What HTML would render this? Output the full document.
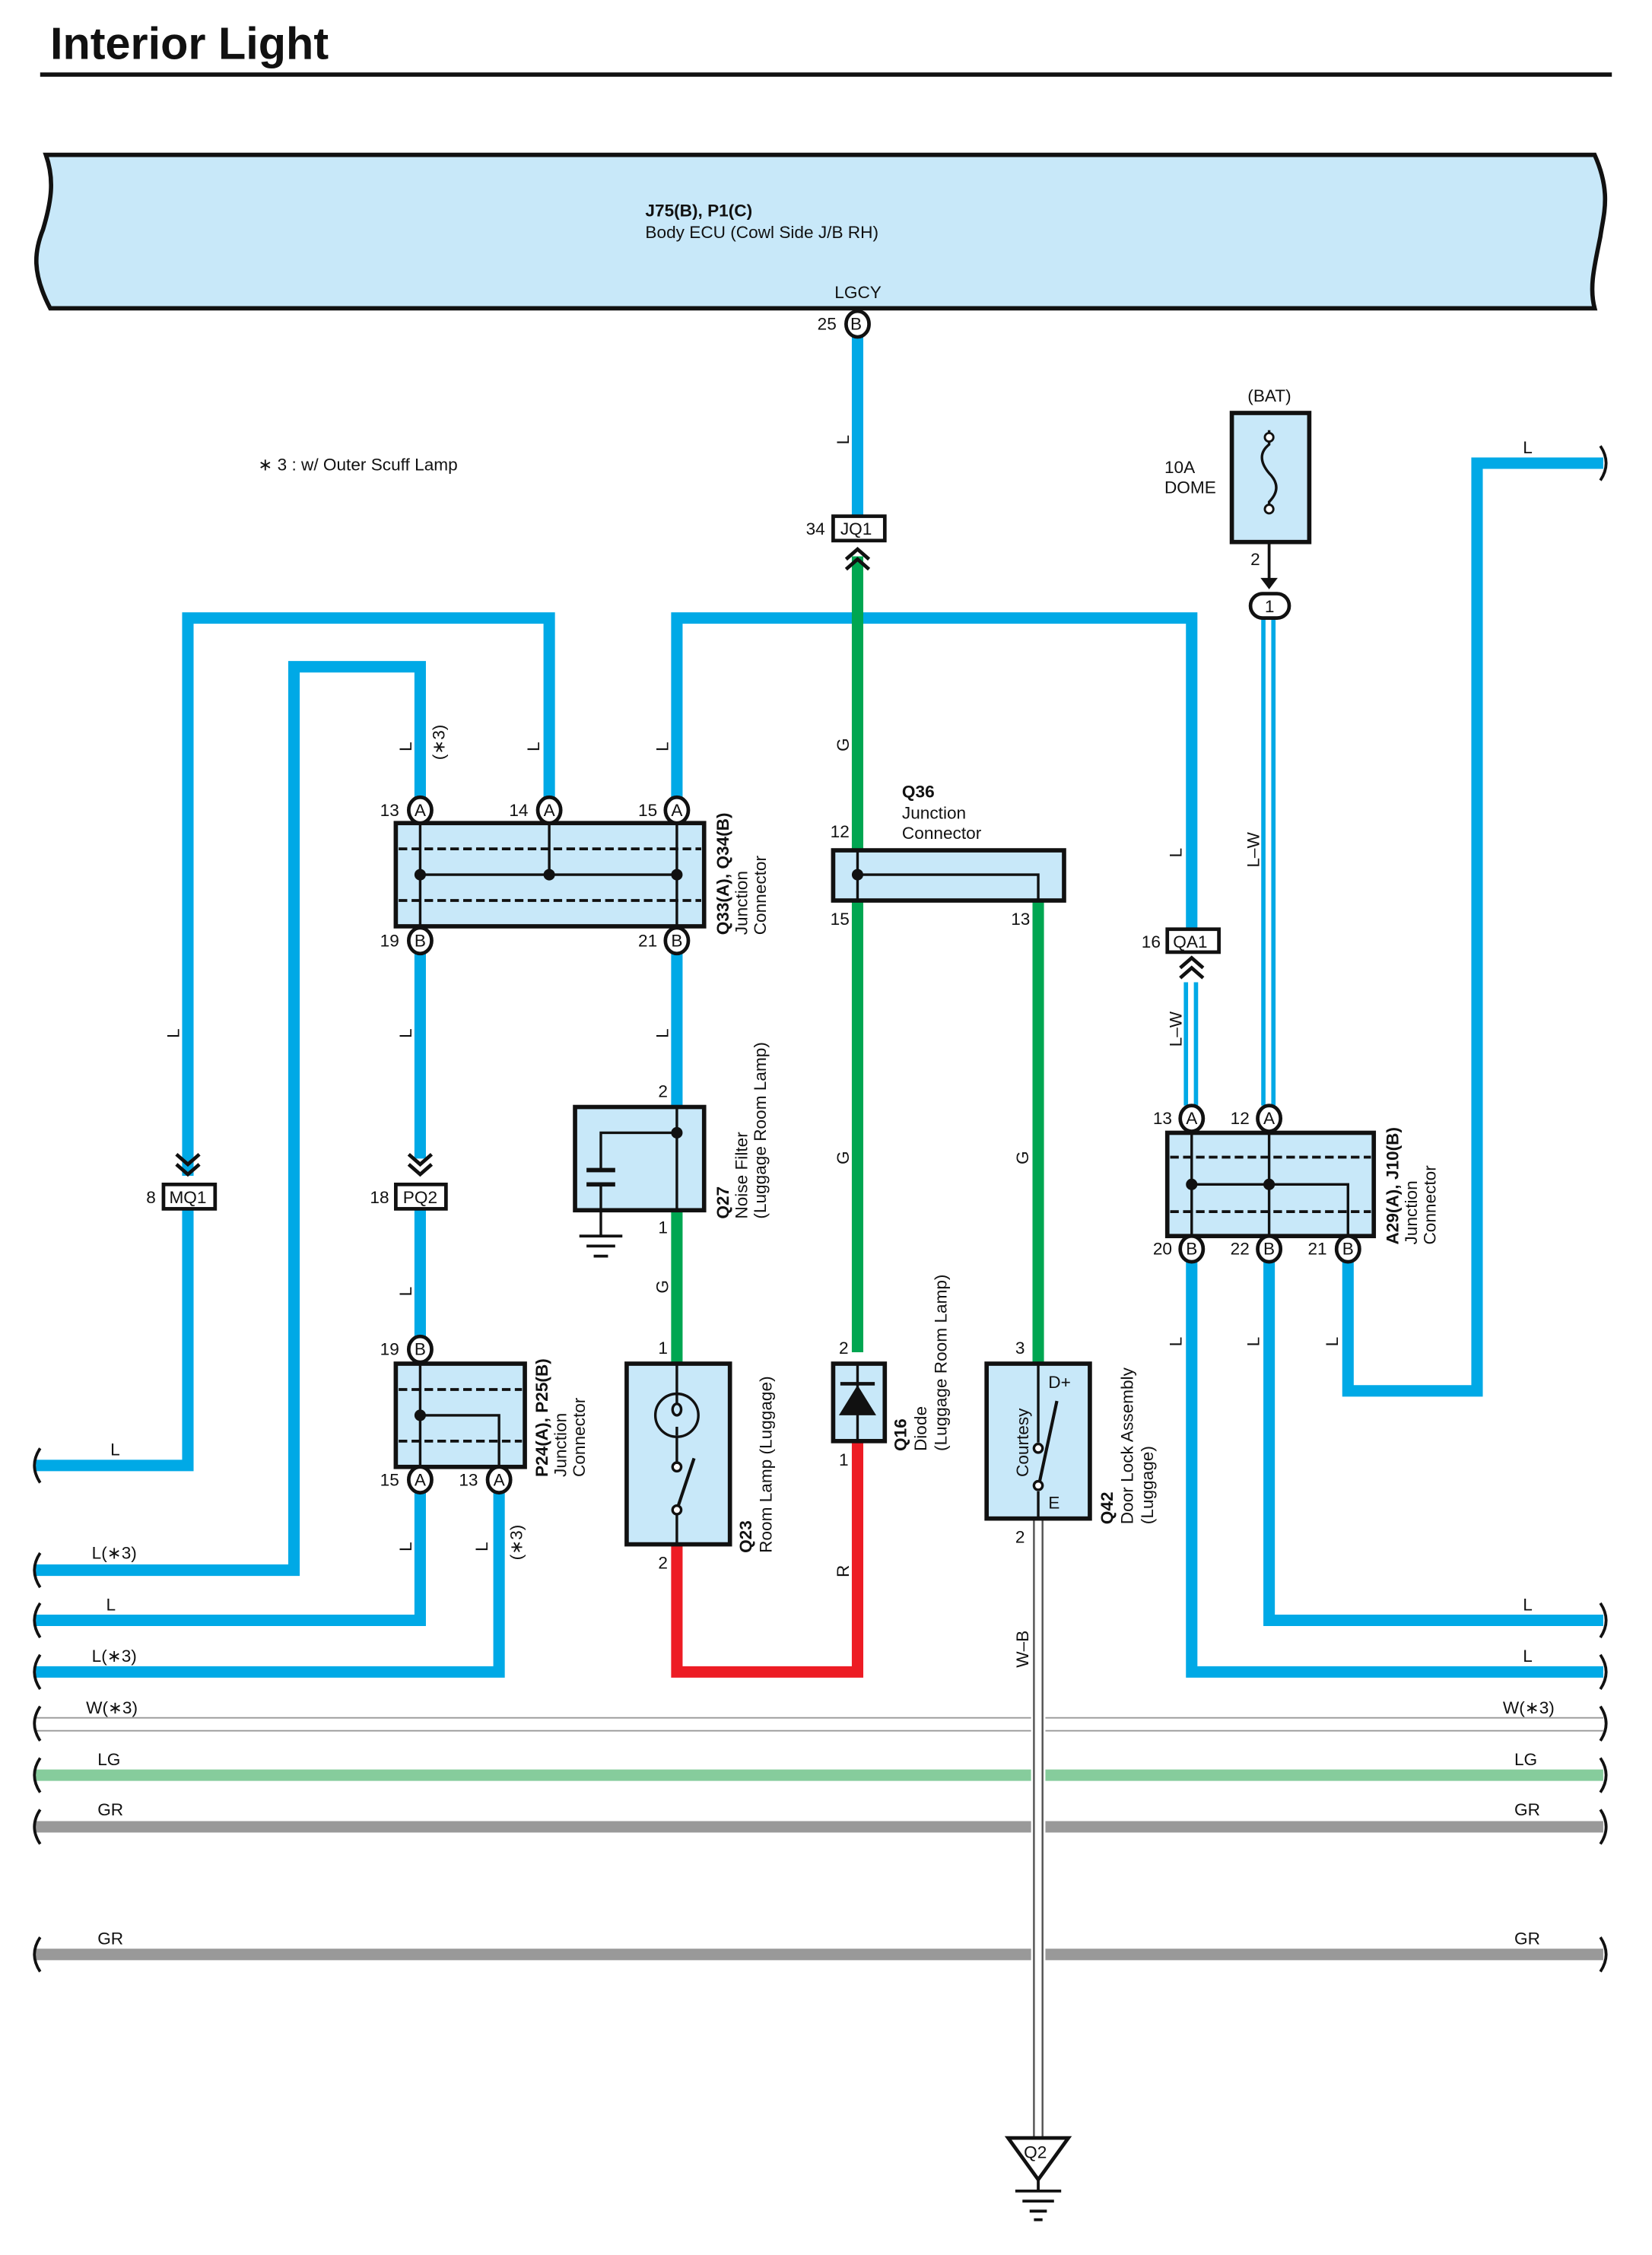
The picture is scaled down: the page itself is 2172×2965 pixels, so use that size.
<!DOCTYPE html>
<html><head><meta charset="utf-8"><style>
html,body{margin:0;padding:0;background:#fff}
svg{display:block}
text{font-family:"Liberation Sans",sans-serif;font-size:12px;fill:#111}
.b{font-weight:bold}
.bl{stroke:#00a9e6;stroke-width:8;fill:none;stroke-linejoin:miter}
.gr{stroke:#00a651;stroke-width:8;fill:none}
.rd{stroke:#ed1c24;stroke-width:8;fill:none}
.bx{fill:#c8e8f9;stroke:#111;stroke-width:3}
.ln{stroke:#111;stroke-width:1.8;fill:none}
.ds{stroke:#111;stroke-width:2;stroke-dasharray:6 3;fill:none}
.pin{fill:#fff;stroke:#111;stroke-width:2.5}
</style></head><body>
<svg width="2172" height="2965" viewBox="0 0 1152 1572.6" preserveAspectRatio="none" xmlns="http://www.w3.org/2000/svg">
<text x="35" y="41" class="b" style="font-size:31.5px">Interior Light</text>
<line x1="28" y1="52" x2="1124" y2="52" stroke="#111" stroke-width="3"/>

<!-- ECU -->
<path d="M32 108 H1112 C1124 135 1118 150 1116 165 C1112 185 1108 200 1112 215 H35 C22 190 24 175 30 160 C36 140 38 125 32 108 Z" class="bx"/>
<text x="450" y="151" class="b">J75(B), P1(C)</text>
<text x="450" y="166">Body ECU (Cowl Side J/B RH)</text>
<text x="582" y="208">LGCY</text>

<text x="180" y="328">∗ 3 : w/ Outer Scuff Lamp</text>

<!-- blue wires -->
<path class="bl" d="M598 232 V360"/>
<path class="bl" d="M131 820 V431 H383 V557"/>
<path class="bl" d="M25 1095 H205 V465 H293 V557"/>
<path class="bl" d="M472 557 V431 H831 V648"/>
<path class="bl" d="M293 664 V808"/>
<path class="bl" d="M293 843 V933"/>
<path class="bl" d="M131 843 V1022 H25"/>
<path class="bl" d="M293 1040 V1130 H25"/>
<path class="bl" d="M348 1040 V1166 H25"/>
<path class="bl" d="M472 664 V772"/>
<path class="bl" d="M831 879 V1166 H1118"/>
<path class="bl" d="M885 879 V1130 H1118"/>
<path class="bl" d="M940 879 V970 H1030 V323 H1118"/>
<!-- L-W -->
<g stroke="#00a9e6" stroke-width="3"><line x1="881" y1="432" x2="881" y2="771"/><line x1="888" y1="432" x2="888" y2="771"/><line x1="827" y1="685" x2="827" y2="771"/><line x1="834" y1="685" x2="834" y2="771"/></g>

<!-- green / red -->
<path class="gr" d="M598 388 V943"/>
<path class="gr" d="M724 628 V951"/>
<path class="gr" d="M472 844 V951"/>
<path class="rd" d="M472 1077 V1166 H598 V1005"/>

<!-- horizontal bus lines -->
<line x1="25" y1="1198" x2="1118" y2="1198" stroke="#999" stroke-width="1"/>
<line x1="25" y1="1207" x2="1118" y2="1207" stroke="#999" stroke-width="1"/>
<line x1="25" y1="1238" x2="1118" y2="1238" stroke="#86cc9c" stroke-width="8"/>
<line x1="25" y1="1274" x2="1118" y2="1274" stroke="#999" stroke-width="8"/>
<line x1="25" y1="1363" x2="1118" y2="1363" stroke="#999" stroke-width="8"/>
<!-- W-B -->
<rect x="719" y="1059" width="10" height="432" fill="#fff"/>
<line x1="721" y1="1059" x2="721" y2="1491" stroke="#555" stroke-width="1.3"/>
<line x1="727" y1="1059" x2="727" y2="1491" stroke="#555" stroke-width="1.3"/>

<!-- break symbols -->
<g stroke="#111" stroke-width="2" fill="none">
<path d="M28 1010 q-8 12 0 24"/><path d="M28 1083 q-8 12 0 24"/><path d="M28 1118 q-8 12 0 24"/><path d="M28 1154 q-8 12 0 24"/><path d="M28 1190 q-8 12 0 24"/><path d="M28 1226 q-8 12 0 24"/><path d="M28 1262 q-8 12 0 24"/><path d="M28 1351 q-8 12 0 24"/>
<path d="M1116 311 q8 12 0 24"/><path d="M1116 1118 q8 12 0 24"/><path d="M1116 1154 q8 12 0 24"/><path d="M1116 1190 q8 12 0 24"/><path d="M1116 1226 q8 12 0 24"/><path d="M1116 1262 q8 12 0 24"/><path d="M1116 1351 q8 12 0 24"/>
</g>
<text x="77" y="1015">L</text><text x="64" y="1087">L(∗3)</text><text x="74" y="1123">L</text><text x="64" y="1159">L(∗3)</text><text x="60" y="1195">W(∗3)</text><text x="68" y="1231">LG</text><text x="68" y="1266">GR</text><text x="68" y="1356">GR</text>
<text x="1062" y="316">L</text><text x="1062" y="1123">L</text><text x="1062" y="1159">L</text><text x="1048" y="1195">W(∗3)</text><text x="1056" y="1231">LG</text><text x="1056" y="1266">GR</text><text x="1056" y="1356">GR</text>

<g>
<ellipse class="pin" cx="598" cy="226" rx="8" ry="9"/><text x="593" y="230">B</text><text x="570" y="230">25</text>
</g>
<!-- JQ1 -->
<rect x="581" y="360" width="36" height="17" fill="#fff" stroke="#111" stroke-width="2.5"/><text x="586" y="373">JQ1</text><text x="562" y="373">34</text>
<path d="M590 390 l8 -7 l8 7 M590 397 l8 -7 l8 7" stroke="#111" stroke-width="2.5" fill="none"/>

<!-- fuse -->
<text x="870" y="280">(BAT)</text>
<rect x="859" y="288" width="54" height="90" class="bx"/>
<path d="M885 300 V310 q-10 8 0 20 q10 10 0 20 V355" class="ln"/>
<circle cx="885" cy="305" r="3" fill="#fff" stroke="#111" stroke-width="1.5"/><circle cx="885" cy="355" r="3" fill="#fff" stroke="#111" stroke-width="1.5"/>
<text x="812" y="330">10A</text><text x="812" y="344">DOME</text>
<text x="872" y="394">2</text>
<line x1="885" y1="378" x2="885" y2="405" stroke="#111" stroke-width="2"/>
<path d="M879 403 l6 8 l6 -8 z" fill="#111"/>
<rect x="872" y="414" width="27" height="17" rx="8.5" class="pin"/><text x="882" y="427">1</text>
<text transform="rotate(-90 878 605)" x="878" y="605">L–W</text>

<!-- Q33 -->
<rect x="276" y="574" width="215" height="72" class="bx"/>
<line x1="278" y1="592" x2="489" y2="592" class="ds"/><line x1="278" y1="628" x2="489" y2="628" class="ds"/>
<path d="M293 574 V646 M383 574 V610 M472 574 V646 M293 610 H472" class="ln"/>
<circle cx="293" cy="610" r="4" fill="#111"/><circle cx="383" cy="610" r="4" fill="#111"/><circle cx="472" cy="610" r="4" fill="#111"/>
<ellipse class="pin" cx="293" cy="565" rx="8" ry="9"/><text x="289" y="569">A</text><text x="265" y="569">13</text>
<ellipse class="pin" cx="383" cy="565" rx="8" ry="9"/><text x="379" y="569">A</text><text x="355" y="569">14</text>
<ellipse class="pin" cx="472" cy="565" rx="8" ry="9"/><text x="468" y="569">A</text><text x="445" y="569">15</text>
<ellipse class="pin" cx="293" cy="656" rx="8" ry="9"/><text x="289" y="660">B</text><text x="265" y="660">19</text>
<ellipse class="pin" cx="472" cy="656" rx="8" ry="9"/><text x="468" y="660">B</text><text x="445" y="660">21</text>
<text transform="rotate(-90 508 652)" x="508" y="652" class="b">Q33(A), Q34(B)</text>
<text transform="rotate(-90 521 652)" x="521" y="652">Junction</text>
<text transform="rotate(-90 534 652)" x="534" y="652">Connector</text>

<!-- MQ1 / PQ2 -->
<path d="M123 812 l8 7 l8 -7 M123 805 l8 7 l8 -7" stroke="#111" stroke-width="2.5" fill="none"/>
<rect x="114" y="826" width="36" height="17" fill="#fff" stroke="#111" stroke-width="2.5"/><text x="118" y="839">MQ1</text><text x="102" y="839">8</text>
<path d="M285 812 l8 7 l8 -7 M285 805 l8 7 l8 -7" stroke="#111" stroke-width="2.5" fill="none"/>
<rect x="276" y="826" width="35" height="17" fill="#fff" stroke="#111" stroke-width="2.5"/><text x="281" y="839">PQ2</text><text x="258" y="839">18</text>

<!-- P24 -->
<rect x="276" y="951" width="90" height="72" class="bx"/>
<line x1="278" y1="969" x2="364" y2="969" class="ds"/><line x1="278" y1="1005" x2="364" y2="1005" class="ds"/>
<path d="M293 951 V1023 M293 987 H348 V1023" class="ln"/><circle cx="293" cy="987" r="4" fill="#111"/>
<ellipse class="pin" cx="293" cy="941" rx="8" ry="9"/><text x="289" y="945">B</text><text x="265" y="945">19</text>
<ellipse class="pin" cx="293" cy="1032" rx="8" ry="9"/><text x="289" y="1036">A</text><text x="265" y="1036">15</text>
<ellipse class="pin" cx="348" cy="1032" rx="8" ry="9"/><text x="344" y="1036">A</text><text x="320" y="1036">13</text>
<text transform="rotate(-90 382 1030)" x="382" y="1030" class="b">P24(A), P25(B)</text>
<text transform="rotate(-90 395 1030)" x="395" y="1030">Junction</text>
<text transform="rotate(-90 408 1030)" x="408" y="1030">Connector</text>

<!-- Q27 -->
<rect x="401" y="772" width="90" height="72" class="bx"/>
<path d="M472 772 V844 M472 790 H419 V816 M419 826 V862" class="ln"/>
<circle cx="472" cy="790" r="4" fill="#111"/>
<path d="M409 816 H429 M409 826 H429" stroke="#111" stroke-width="3"/>
<path d="M404 862 H434 M409 869 H429 M414 876 H424" stroke="#111" stroke-width="2"/>
<text x="459" y="765">2</text><text x="459" y="860">1</text>
<text transform="rotate(-90 508 850)" x="508" y="850" class="b">Q27</text>
<text transform="rotate(-90 521 850)" x="521" y="850">Noise Filter</text>
<text transform="rotate(-90 534 850)" x="534" y="850">(Luggage Room Lamp)</text>

<!-- Q36 -->
<rect x="581" y="593" width="161" height="35" class="bx"/>
<path d="M598 593 V628 M598 610 H724 V628" class="ln"/><circle cx="598" cy="610" r="4" fill="#111"/>
<text x="629" y="556" class="b">Q36</text><text x="629" y="571">Junction</text><text x="629" y="585">Connector</text>
<text x="579" y="584">12</text><text x="579" y="645">15</text><text x="705" y="645">13</text>

<!-- Q23 -->
<rect x="437" y="951" width="72" height="126" class="bx"/>
<path d="M472 951 V973 M472 1001 V1020 M472 1056 V1077" class="ln"/>
<circle cx="472" cy="987" r="15" class="ln" stroke-width="2.2"/>
<path d="M472 973 v6 a3 4 0 1 0 0 8 a3 4 0 1 0 0 -8 M472 995 v6" class="ln"/>
<circle cx="472" cy="1023" r="3" fill="#fff" stroke="#111" stroke-width="1.8"/><circle cx="472" cy="1053" r="3" fill="#fff" stroke="#111" stroke-width="1.8"/>
<line x1="473" y1="1050" x2="484" y2="1017" stroke="#111" stroke-width="2.2"/>
<text x="459" y="944">1</text><text x="459" y="1094">2</text>
<text transform="rotate(-90 524 1083)" x="524" y="1083" class="b">Q23</text>
<text transform="rotate(-90 538 1083)" x="538" y="1083">Room Lamp (Luggage)</text>

<!-- Q16 -->
<rect x="581" y="951" width="36" height="54" class="bx"/>
<path d="M598 951 V1005" class="ln"/>
<path d="M585 987 L598 966 L611 987 Z" fill="#111"/><line x1="586" y1="965" x2="610" y2="965" stroke="#111" stroke-width="2.5"/>
<text x="585" y="944">2</text><text x="585" y="1022">1</text>
<text transform="rotate(-90 632 1012)" x="632" y="1012" class="b">Q16</text>
<text transform="rotate(-90 646 1012)" x="646" y="1012">Diode</text>
<text transform="rotate(-90 660 1012)" x="660" y="1012">(Luggage Room Lamp)</text>

<!-- Q42 -->
<rect x="688" y="951" width="72" height="108" class="bx"/>
<path d="M724 951 V1006 M724 1040 V1059" class="ln"/>
<circle cx="724" cy="1010" r="3" fill="#fff" stroke="#111" stroke-width="1.8"/><circle cx="724" cy="1036" r="3" fill="#fff" stroke="#111" stroke-width="1.8"/>
<line x1="725" y1="1033" x2="737" y2="977" stroke="#111" stroke-width="2.2"/>
<text x="731" y="968">D+</text><text x="731" y="1052">E</text>
<text transform="rotate(-90 717 1030)" x="717" y="1030">Courtesy</text>
<text x="708" y="944">3</text><text x="708" y="1076">2</text>
<text transform="rotate(-90 776 1063)" x="776" y="1063" class="b">Q42</text>
<text transform="rotate(-90 790 1063)" x="790" y="1063">Door Lock Assembly</text>
<text transform="rotate(-90 804 1063)" x="804" y="1063">(Luggage)</text>

<!-- Q2 ground -->
<path d="M703 1491 H745 L724 1520 Z" fill="#fff" stroke="#111" stroke-width="2.5"/>
<text x="714" y="1505">Q2</text>
<path d="M724 1520 V1528 M708 1528 H740 M713 1535 H735 M718 1542 H730 M721 1548 H727" stroke="#111" stroke-width="2"/>

<!-- QA1 -->
<rect x="814" y="648" width="36" height="16" fill="#fff" stroke="#111" stroke-width="2.5"/><text x="818" y="661">QA1</text><text x="796" y="661">16</text>
<path d="M823 675 l8 -7 l8 7 M823 682 l8 -7 l8 7" stroke="#111" stroke-width="2.5" fill="none"/>
<text transform="rotate(-90 824 730)" x="824" y="730">L–W</text>

<!-- A29 -->
<rect x="814" y="790" width="144" height="72" class="bx"/>
<line x1="816" y1="807" x2="956" y2="807" class="ds"/><line x1="816" y1="845" x2="956" y2="845" class="ds"/>
<path d="M831 790 V862 M885 790 V862 M831 826 H940 V862" class="ln"/>
<circle cx="831" cy="826" r="4" fill="#111"/><circle cx="885" cy="826" r="4" fill="#111"/>
<ellipse class="pin" cx="831" cy="780" rx="8" ry="9"/><text x="827" y="784">A</text><text x="804" y="784">13</text>
<ellipse class="pin" cx="885" cy="780" rx="8" ry="9"/><text x="881" y="784">A</text><text x="858" y="784">12</text>
<ellipse class="pin" cx="831" cy="871" rx="8" ry="9"/><text x="827" y="875">B</text><text x="804" y="875">20</text>
<ellipse class="pin" cx="885" cy="871" rx="8" ry="9"/><text x="881" y="875">B</text><text x="858" y="875">22</text>
<ellipse class="pin" cx="940" cy="871" rx="8" ry="9"/><text x="936" y="875">B</text><text x="912" y="875">21</text>
<text transform="rotate(-90 975 868)" x="975" y="868" class="b">A29(A), J10(B)</text>
<text transform="rotate(-90 988 868)" x="988" y="868">Junction</text>
<text transform="rotate(-90 1001 868)" x="1001" y="868">Connector</text>

<!-- wire labels -->
<g>
<text transform="rotate(-90 592 310)" x="592" y="310">L</text>
<text transform="rotate(-90 125 724)" x="125" y="724">L</text>
<text transform="rotate(-90 287 524)" x="287" y="524">L</text>
<text transform="rotate(-90 310 530)" x="310" y="530">(∗3)</text>
<text transform="rotate(-90 376 524)" x="376" y="524">L</text>
<text transform="rotate(-90 466 524)" x="466" y="524">L</text>
<text transform="rotate(-90 592 524)" x="592" y="524">G</text>
<text transform="rotate(-90 287 724)" x="287" y="724">L</text>
<text transform="rotate(-90 466 724)" x="466" y="724">L</text>
<text transform="rotate(-90 287 904)" x="287" y="904">L</text>
<text transform="rotate(-90 466 902)" x="466" y="902">G</text>
<text transform="rotate(-90 592 812)" x="592" y="812">G</text>
<text transform="rotate(-90 717 812)" x="717" y="812">G</text>
<text transform="rotate(-90 824 598)" x="824" y="598">L</text>
<text transform="rotate(-90 824 939)" x="824" y="939">L</text>
<text transform="rotate(-90 878 939)" x="878" y="939">L</text>
<text transform="rotate(-90 933 939)" x="933" y="939">L</text>
<text transform="rotate(-90 287 1082)" x="287" y="1082">L</text>
<text transform="rotate(-90 340 1082)" x="340" y="1082">L</text>
<text transform="rotate(-90 364 1088)" x="364" y="1088">(∗3)</text>
<text transform="rotate(-90 592 1100)" x="592" y="1100">R</text>
<text transform="rotate(-90 717 1163)" x="717" y="1163">W–B</text>
</g>
</svg>
</body></html>
